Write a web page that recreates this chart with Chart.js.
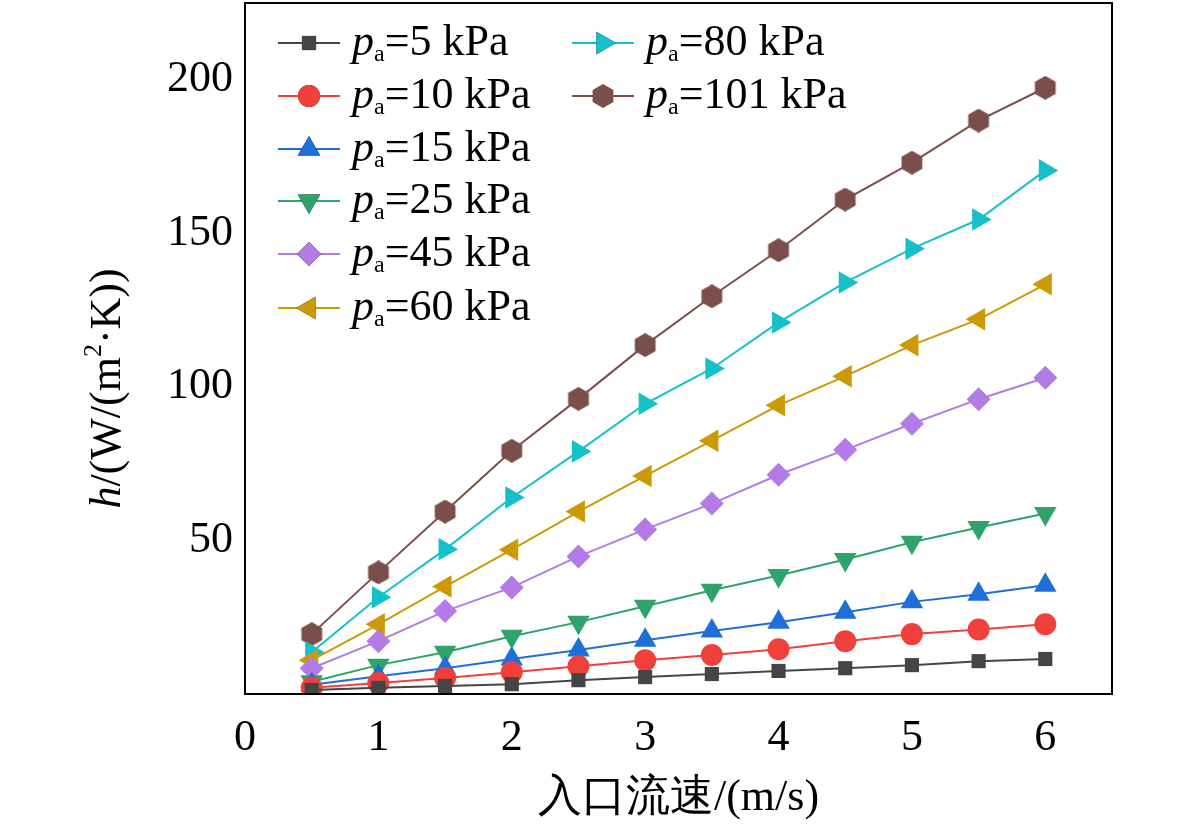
<!DOCTYPE html>
<html><head><meta charset="utf-8">
<script src="https://cdn.jsdelivr.net/npm/chart.js@4"></script>
<style>body{margin:0;background:#fff}#wrap{width:1181px;height:825px}</style>
</head><body><div id="wrap"><canvas id="c"></canvas></div>
<script>
const speeds = [0.5,1,1.5,2,2.5,3,3.5,4,4.5,5,5.5,6];
const pressures = ['5','10','15','25','45','60','80','101'];
const h5   = [1.3,2,2.6,3.2,4.5,5.5,6.5,7.5,8.4,9.4,10.7,11.4];
const h10  = [2,3.6,5.2,7.1,9,11,12.7,14.6,17.2,19.5,21,22.7];
const h15  = [3,5.8,8.4,11.4,14.3,17.5,20.5,23.4,26.6,30,32.5,35.4];
const h25  = [4,9.4,13.6,18.8,23.4,28.6,33.8,38.6,43.8,49.4,54.2,58.8];
const h45  = [8.4,17.2,27,34.7,44.8,53.6,62,71.4,79.5,88,96,103];
const h60  = [11,22.7,35,47,59.4,71,82.5,94,103.5,113.6,122,133.4];
const h80  = [13.6,31.5,47.1,64,79,94.5,106,121,134,145,154.5,170.5];
const h101 = [19.5,39.6,59.4,79.2,96.1,113.6,129.5,144.5,161,173,186.7,197.4];
const series = [h5,h10,h15,h25,h45,h60,h80,h101];
const colors = ['#454545','#f0403c','#1f6fd8','#2ea46a','#b27be6','#cc9a06','#16c0c8','#7a4f4a'];

function hexImg(color){
  const c=document.createElement('canvas'); c.width=24; c.height=24;
  const g=c.getContext('2d'); g.fillStyle=color; g.beginPath();
  for(let i=0;i<6;i++){const a=Math.PI/6+i*Math.PI/3; g.lineTo(12+12*Math.cos(a),12+12*Math.sin(a));}
  g.closePath(); g.fill(); return c;
}
const styles = ['rect','circle','triangle','triangle','rectRot','triangle','triangle',hexImg(colors[7])];
const rots = [0,0,0,180,0,-90,90,0];
const radii = [10,11,13,13,12,13,13,11];

const datasets = series.map((s,i)=>({
  data: speeds.map((x,j)=>({x,y:s[j]})),
  borderColor: colors[i], backgroundColor: colors[i], borderWidth:2,
  pointStyle: styles[i], rotation: rots[i], pointRadius: radii[i], pointBorderWidth:0
}));

const font = '"Liberation Serif", "Times New Roman", serif';
const extras = {
  id:'extras',
  afterDraw(chart){
    const {ctx, chartArea:a} = chart;
    ctx.save();
    ctx.strokeStyle='#000'; ctx.lineWidth=2; ctx.strokeRect(a.left,a.top,a.right-a.left,a.bottom-a.top);
    const pos=[[278,43],[278,96],[278,149],[278,201],[278,254],[278,308],[572,43],[572,96]];
    pressures.forEach((p,i)=>{
      const [x,y]=pos[i];
      ctx.strokeStyle=colors[i]; ctx.lineWidth=2;
      ctx.beginPath(); ctx.moveTo(x,y); ctx.lineTo(x+62,y); ctx.stroke();
      Chart.helpers.drawPoint(ctx,{pointStyle:styles[i],rotation:rots[i],radius:radii[i],borderWidth:0},x+31,y);
      ctx.fillStyle=colors[i]; ctx.fill();
      ctx.fillStyle='#000'; ctx.textBaseline='middle'; ctx.textAlign='left';
      let tx=x+74;
      ctx.font='italic 44px '+font; ctx.fillText('p',tx,y); tx+=ctx.measureText('p').width;
      ctx.font='24px '+font; ctx.fillText('a',tx,y+12); tx+=ctx.measureText('a').width;
      ctx.font='44px '+font; ctx.fillText('='+p+' kPa',tx,y);
    });
    ctx.font='44px '+font; ctx.textAlign='center'; ctx.textBaseline='middle';
    ctx.fillText('入口流速/(m/s)',(a.left+a.right)/2,798);
    ctx.translate(108,(a.top+a.bottom)/2+40); ctx.rotate(-Math.PI/2);
    const parts=[['h','italic 44px '],['/(W/(m','44px '],['2','26px ',-14],['·K))','44px ']];
    let w=0; parts.forEach(p=>{ctx.font=p[1]+font; w+=ctx.measureText(p[0]).width;});
    let tx=-w/2; ctx.textAlign='left';
    parts.forEach(p=>{ctx.font=p[1]+font; ctx.fillText(p[0],tx,p[2]||0); tx+=ctx.measureText(p[0]).width;});
    ctx.restore();
  }
};

new Chart(document.getElementById('c'),{
  type:'line',
  data:{datasets},
  options:{
    responsive:true, maintainAspectRatio:false, animation:false,
    layout:{autoPadding:false,padding:{left:0,right:69,top:3,bottom:0}},
    plugins:{legend:{display:false},tooltip:{enabled:false}},
    scales:{
      x:{type:'linear',min:0,max:6.5,grid:{display:false,drawTicks:false},border:{display:false},
        ticks:{stepSize:1,includeBounds:false,padding:18,color:'#000',font:{family:font,size:44},
          callback:v=>Math.abs(v-Math.round(v))<1e-6?String(Math.round(v)):''},
        afterFit:s=>{s.height=131;s.paddingLeft=0;s.paddingRight=0;}},
      y:{min:0,max:225,grid:{display:false,drawTicks:false},border:{display:false},
        ticks:{stepSize:50,includeBounds:false,padding:12,color:'#000',font:{family:font,size:44},
          callback:v=>(v>0&&v%50===0)?String(v):''},
        afterFit:s=>{s.width=245;s.paddingTop=0;s.paddingBottom=0;}}
    }
  },
  plugins:[extras]
});
</script></body></html>
